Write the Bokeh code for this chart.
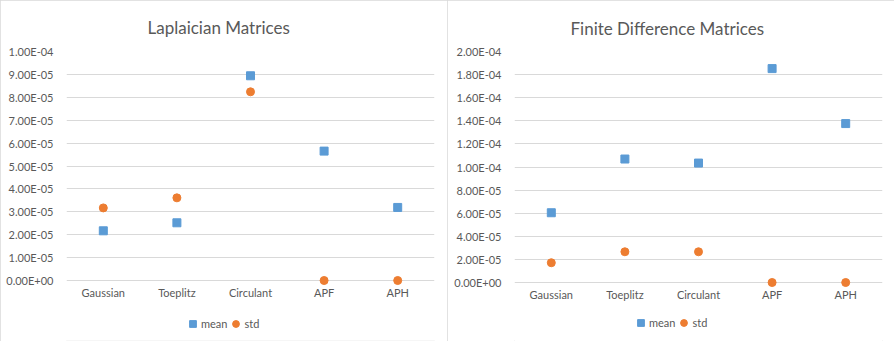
from bokeh.plotting import figure
from bokeh.models import (FactorRange, Range1d, FixedTicker, CustomJSTickFormatter,
                          Legend, LegendItem)
from bokeh.layouts import row
from bokeh.embed import file_html
from bokeh.resources import INLINE

categories = ["Gaussian", "Toeplitz", "Circulant", "APF", "APH"]

lap_title = "Laplaician Matrices"
lap_mean = [2.17e-5, 2.52e-5, 8.94e-5, 5.65e-5, 3.19e-5]
lap_std = [3.17e-5, 3.61e-5, 8.24e-5, 0.0, 0.0]
lap_ymax, lap_step = 1.0e-4, 1.0e-5

fd_title = "Finite  Difference Matrices"
fd_mean = [6.04e-5, 1.069e-4, 1.034e-4, 1.852e-4, 1.376e-4]
fd_std = [1.71e-5, 2.66e-5, 2.66e-5, 0.0, 0.0]
fd_ymax, fd_step = 2.0e-4, 2.0e-5

series_labels = ["mean", "std"]

FONT = "Lato"
TXT = "#595959"
GRID = "#D9D9D9"
MEAN_C = "#5B9BD5"
STD_C = "#ED7D31"

fmt_code = """
let s = tick.toExponential(2).toUpperCase();
let m = s.split("E");
let e = parseInt(m[1]);
let sign = e < 0 ? "-" : "+";
let a = Math.abs(e);
return m[0] + "E" + sign + (a < 10 ? "0" + a : "" + a);
"""

BELOW_PX = 60  # room under the zero line (inside the frame) for category labels and legend


def make_panel(title, mean, std, ymax, step, plot_px, mb_left, mb_right, mb_top,
               title_offset, title_standoff):
    ymin = -ymax * BELOW_PX / plot_px
    p = figure(x_range=FactorRange(*categories), y_range=Range1d(ymin, ymax),
               frame_width=368, frame_height=plot_px + BELOW_PX,
               output_backend="svg", toolbar_location=None,
               min_border_left=mb_left, min_border_right=mb_right,
               min_border_top=mb_top, min_border_bottom=1,
               outline_line_color=None, border_fill_color="white",
               background_fill_color="white",
               styles={"outline": "1px solid #D9D9D9", "outline-offset": "-1px"})
    p.title.text = title
    p.title.align = "left"
    p.title.offset = title_offset
    p.title.text_font = FONT
    p.title.text_font_size = "17px"
    p.title.text_font_style = "normal"
    p.title.text_color = TXT
    p.title.text_line_height = 1.0
    p.title.standoff = title_standoff

    r1 = p.scatter(x=categories, y=mean, marker="square", size=8, color=MEAN_C)
    r2 = p.scatter(x=categories, y=std, marker="circle", size=8, color=STD_C)

    n = int(round(ymax / step))
    ticker = FixedTicker(ticks=[step * i for i in range(n + 1)], minor_ticks=[])

    p.xgrid.visible = False
    p.ygrid.ticker = ticker
    p.ygrid.grid_line_color = GRID
    p.ygrid.grid_line_width = 1

    for ax in (p.xaxis[0], p.yaxis[0]):
        ax.axis_line_color = None
        ax.major_tick_line_color = None
        ax.minor_tick_line_color = None
        ax.major_tick_out = 0
        ax.major_tick_in = 0
        ax.major_label_text_font = FONT
        ax.major_label_text_font_size = "11px"
        ax.major_label_text_color = TXT
    p.xaxis.fixed_location = 0
    p.xaxis.major_label_standoff = 5
    p.yaxis.major_label_standoff = 13
    p.yaxis.ticker = ticker
    p.yaxis.formatter = CustomJSTickFormatter(code=fmt_code)

    legend = Legend(items=[LegendItem(label=series_labels[0], renderers=[r1]),
                           LegendItem(label=series_labels[1], renderers=[r2])],
                    orientation="horizontal", location=(118, 8),
                    border_line_color=None, background_fill_alpha=0,
                    label_text_font=FONT, label_text_font_size="11px",
                    label_text_color=TXT, glyph_width=17, glyph_height=17,
                    spacing=0, padding=2, margin=0, label_standoff=0)
    p.add_layout(legend, "center")
    return p


p1 = make_panel(lap_title, lap_mean, lap_std, lap_ymax, lap_step, 229, 66, 13, 51, 81, 27)
p2 = make_panel(fd_title, fd_mean, fd_std, fd_ymax, fd_step, 231, 67, 12, 49, 56, 25)

layout = row(p1, p2)
open("out.html", "w").write(file_html(layout, INLINE))
